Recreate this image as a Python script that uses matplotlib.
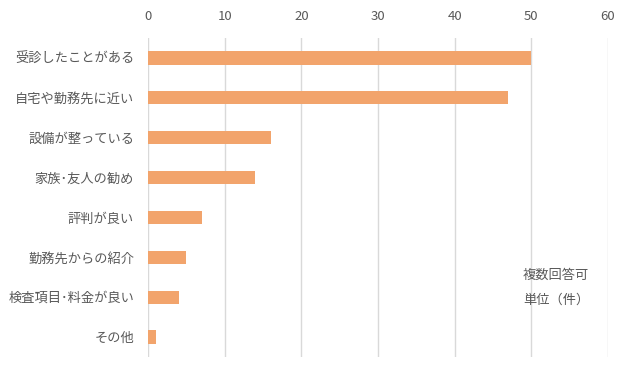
import matplotlib.pyplot as plt

plt.rcParams['font.family'] = ['Noto Sans CJK JP', 'DejaVu Sans']

# 来院理由（複数回答可）
reasons = ['受診したことがある', '自宅や勤務先に近い', '設備が整っている', '家族･友人の勧め',
           '評判が良い', '勤務先からの紹介', '検査項目･料金が良い', 'その他']
counts = [50, 47, 16, 14, 7, 5, 4, 1]
x_ticks = [0, 10, 20, 30, 40, 50, 60]

text_gray = '#595959'

fig = plt.figure(figsize=(6.32, 3.71), dpi=100)
ax = fig.add_axes([0.2342, 0.0377, 0.7278, 0.8599])

ypos = list(range(len(reasons)))
ax.barh(ypos, counts, height=0.335, color='#F2A46C', zorder=2)

ax.set_xlim(0, 60)
ax.set_ylim(len(reasons) - 0.5, -0.5)
ax.set_xticks(x_ticks)
ax.set_yticks(ypos)
ax.set_yticklabels(reasons)
ax.xaxis.tick_top()
ax.tick_params(axis='x', length=0, pad=10.5, labelsize=9.5, labelcolor=text_gray)
ax.tick_params(axis='y', length=0, pad=10, labelsize=9.5, labelcolor=text_gray)

ax.grid(axis='x', color='#D9D9D9', linewidth=1, zorder=0)
for s in ax.spines.values():
    s.set_visible(False)

fig.text(523 / 632, 1 - 275 / 371, '複数回答可', fontsize=9.5, color=text_gray, va='center')
fig.text(523 / 632, 1 - 300 / 371, '単位（件）', fontsize=9.5, color=text_gray, va='center')

fig.savefig('out.png', dpi=100)
